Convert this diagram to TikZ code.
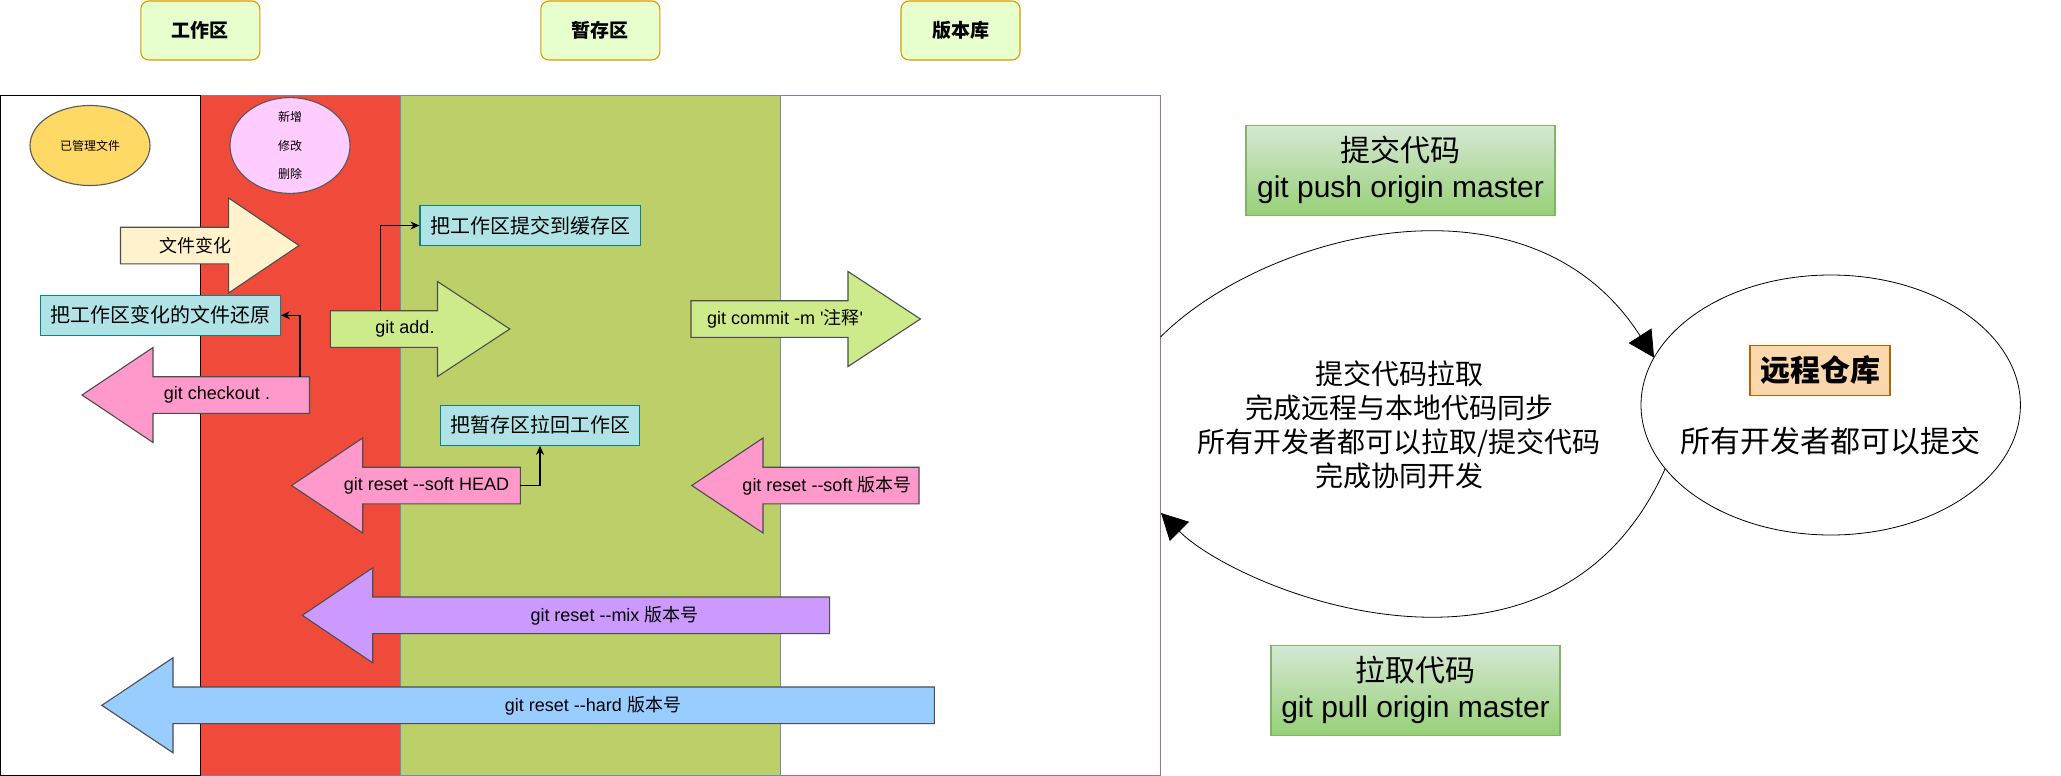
\documentclass[tikz,border=0pt]{standalone}
\usepackage{fontspec}
\setmainfont{Liberation Sans}
\newfontfamily\cjk{Noto Sans CJK SC}
\usetikzlibrary{arrows.meta,shapes.geometric}
\definecolor{titlefill}{HTML}{E6FFCC}
\definecolor{titleline}{HTML}{D79B00}
\definecolor{workred}{HTML}{F04B3A}
\definecolor{stagegreen}{HTML}{BCCF69}
\definecolor{stageline}{HTML}{6C8EBF}
\definecolor{repoline}{HTML}{9673A6}
\definecolor{fileyellow}{HTML}{FFD966}
\definecolor{filepink}{HTML}{FFCCFF}
\definecolor{changefill}{HTML}{FFF2CC}
\definecolor{changeline}{HTML}{D6B656}
\definecolor{notefill}{HTML}{B0E3E6}
\definecolor{noteline}{HTML}{0E8088}
\definecolor{addfill}{HTML}{CDEB8B}
\definecolor{softfill}{HTML}{FF99CC}
\definecolor{mixfill}{HTML}{CC99FF}
\definecolor{hardfill}{HTML}{99CCFF}
\definecolor{shapeline}{HTML}{4D4D4D}
\definecolor{pushtop}{HTML}{D5E8D4}
\definecolor{pushbottom}{HTML}{97D077}
\definecolor{pushline}{HTML}{82B366}
\definecolor{remotefill}{HTML}{FAD7AC}
\definecolor{remoteline}{HTML}{B46504}
\newcommand{\fatarrow}[5]{\draw[draw=shapeline,fill=#1] (#2,#5-18.3)--(#3,#5-18.3)--(#3,#5-47.5)--(#4,#5)--(#3,#5+47.5)--(#3,#5+18.3)--(#2,#5+18.3)--cycle;}

\begin{document}
\begin{tikzpicture}[x=1pt,y=-1pt,line width=1.1pt,>={Stealth[length=9pt,width=8pt]},
	title/.style={draw=titleline,fill=titlefill,rounded corners=8pt,minimum width=119pt,minimum height=59pt,font=\fontsize{19}{22}\selectfont\cjk\bfseries},
	note/.style={draw=noteline,fill=notefill,inner sep=0pt,minimum height=40pt,font=\fontsize{20}{24}\selectfont\cjk},
	small/.style={inner sep=0pt,font=\fontsize{18}{21}\selectfont},
	big/.style={inner sep=0pt,align=center,font=\fontsize{30}{36}\selectfont},
	greenbox/.style={big,draw=pushline,top color=pushtop,bottom color=pushbottom,minimum width=309pt,minimum height=90pt},
	oval/.style={ellipse,draw=gray!70!black,inner sep=0pt,minimum width=120pt,minimum height=80pt,align=center}]
	\useasboundingbox (0,0) rectangle (2061,776);
	\node[title] (work) at (200.3,30.5) {工作区};
	\node[title] (stage) at (600.3,30.5) {暂存区};
	\node[title] (repo) at (960.5,30.5) {版本库};
	\draw[fill=white,draw=repoline] (0,95.7) rectangle (1160.5,775.3);
	\draw[fill=white] (0,95.7) rectangle (200.4,775.3);
	\fill[workred] (200.9,95.7) rectangle (400.5,775.3);
	\draw[fill=stagegreen,draw=stageline] (400.5,95.7) rectangle (780.5,775.3);
	\node[oval,fill=fileyellow,font=\fontsize{12}{14}\selectfont\cjk] (managed) at (90,145.5) {已管理文件};
	\node[oval,fill=filepink,font=\fontsize{12}{28.3}\selectfont\cjk] (changes) at (290,145.5) {新增\\修改\\删除};
	\fatarrow{changefill}{120.5}{228.6}{299}{245.5}
	\node[small,font=\fontsize{18}{21}\selectfont\cjk] (change) at (195.5,245.5) {文件变化};
	\fatarrow{addfill}{330.4}{437.5}{509.8}{329}
	\node[small] (add) at (405,329) {git add.};
	\fatarrow{addfill}{691}{848}{920.4}{319}
	\node[small] (commit) at (785,319) {git commit -m \textquotesingle{\cjk 注释}\textquotesingle};
	\fatarrow{softfill}{309.5}{153}{82}{395}
	\node[small] (checkout) at (217,395) {git checkout .};
	\fatarrow{softfill}{520.4}{362.7}{291.6}{485.5}
	\node[small] (softhead) at (426.5,485.5) {git reset -{}-soft HEAD};
	\fatarrow{softfill}{919}{763}{691.8}{485.5}
	\node[small] (softver) at (827,485.5) {git reset -{}-soft {\cjk 版本号}};
	\fatarrow{mixfill}{829.6}{372.7}{302.3}{615.3}
	\node[small] (mix) at (614.5,615.3) {git reset -{}-mix {\cjk 版本号}};
	\fatarrow{hardfill}{934.4}{173}{101.8}{705.3}
	\node[small] (hard) at (593,705.3) {git reset -{}-hard {\cjk 版本号}};
	\node[note,minimum width=220.6pt] (tostage) at (530.3,225.5) {把工作区提交到缓存区};
	\node[note,minimum width=239.8pt] (restore) at (160.5,315.3) {把工作区变化的文件还原};
	\node[note,minimum width=199.8pt] (back) at (540,425.3) {把暂存区拉回工作区};
	\coordinate (addtop) at (380.4,310.7);
	\coordinate (checkouttop) at (300,376.7);
	\coordinate (softend) at (520.4,485.5);
	\draw[->] (addtop) |- (tostage.west);
	\draw[->] (checkouttop) |- (restore.east);
	\draw[->] (softend) -| (back.south);
	\node[greenbox] (push) at (1400.5,170.3) {{\cjk 提交代码}\\git push origin master};
	\node[greenbox,minimum width=289pt] (pull) at (1415.5,690.3) {{\cjk 拉取代码}\\git pull origin master};
	\node[ellipse,draw,line width=0.8pt,minimum width=379.4pt,minimum height=260pt,outer sep=0pt] (remote) at (1830.7,405) {};
	\node[big,draw=remoteline,fill=remotefill,minimum width=140pt,minimum height=50pt,font=\fontsize{30}{36}\selectfont\cjk\bfseries] (remotename) at (1820,370.5) {远程仓库};
	\node[big,font=\fontsize{30}{36}\selectfont\cjk] (everyone) at (1830,441) {所有开发者都可以提交};
	\node[big,font=\fontsize{28}{34}\selectfont\cjk] (sync) at (1399,424.7) {提交代码拉取\\完成远程与本地代码同步\\所有开发者都可以拉取/提交代码\\完成协同开发};
	\coordinate (pushfrom) at (1160.5,337);
	\coordinate (pullto) at (1161,513);
	\draw[-{Triangle[length=26pt,width=27pt]},line width=0.8pt] (pushfrom) .. controls (1264,233.5) and (1529,162) .. (remote.165);
	\draw[-{Triangle[length=26pt,width=27pt]},line width=0.8pt] (remote.201) .. controls (1553,719) and (1238.4,590.4) .. (pullto);
\end{tikzpicture}
\end{document}
